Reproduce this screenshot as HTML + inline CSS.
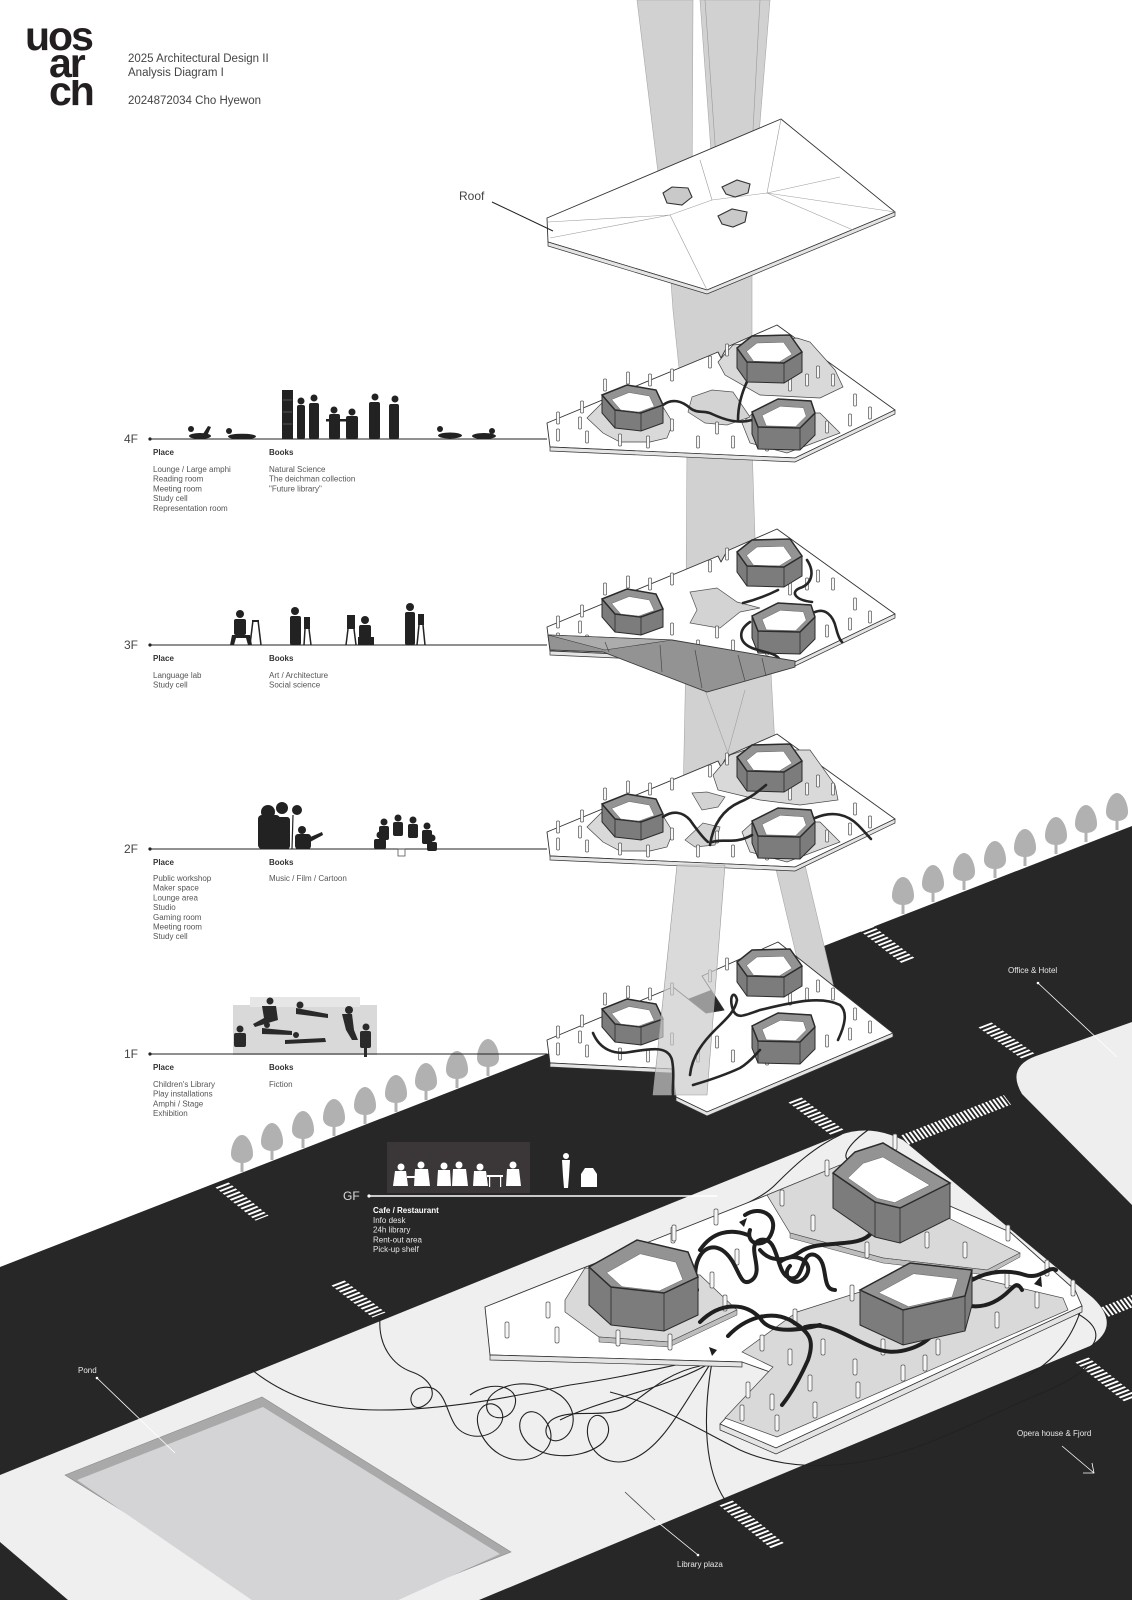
<!DOCTYPE html>
<html><head><meta charset="utf-8"><style>
html,body{margin:0;padding:0;background:#fff;}
svg{display:block;font-family:"Liberation Sans",Arial,sans-serif;}
.pl{fill:#fff;stroke:#333;stroke-width:.9;stroke-linejoin:round}
.pt{fill:#e4e4e4;stroke:#333;stroke-width:.7}
.sp{fill:#d9d9d9;stroke:#444;stroke-width:.7}
.ho{fill:#d3d3d3;stroke:#555;stroke-width:.7}
.hs{fill:#7c7c7c;stroke:#2b2b2b;stroke-width:1}
.hl{stroke:#2b2b2b;stroke-width:.8}
.hr{fill:#939393;stroke:#2b2b2b;stroke-width:1.5}
.hi{fill:#fff;stroke:#666;stroke-width:.5}
.c rect{fill:#f6f6f6;stroke:#555;stroke-width:.7}
.tp{fill:none;stroke:#262626;stroke-width:2.6;stroke-linecap:round}
.tg{fill:none;stroke:#1f1f1f;stroke-width:4;stroke-linecap:round}
.th{fill:none;stroke:#222;stroke-width:1.1}
.sh{fill:#d1d1d1;stroke:#a8a8a8;stroke-width:.6}
.fl{font-size:12px;fill:#444}
.hd{font-size:8px;font-weight:bold;fill:#333}
.it{font-size:8px;fill:#555}
.ll{stroke:#222;stroke-width:1}
.sil{fill:#222}
.wt{fill:#fff}
.cw{fill:none;stroke:#fff}
</style></head><body>
<svg width="1132" height="1600" viewBox="0 0 1132 1600" xmlns="http://www.w3.org/2000/svg">
<defs>
  <g id="tree">
    <rect x="-1.5" y="-10" width="3" height="10" fill="#b1b1b1"/>
    <path d="M0,-37 C6,-37 11,-27 11,-18 C11,-12 6,-9 0,-9 C-6,-9 -11,-12 -11,-18 C-11,-27 -6,-37 0,-37 Z" fill="#b1b1b1"/>
  </g>
  <g id="plate4">
    <polygon class="pl" points="547,423 718,352 721,358 727,347 777,325 895,410 795,458 550,447"/>
    <polygon class="pt" points="550,447 795,458 895,410 895,414 795,462 550,451"/>
  </g>
  <g id="cols4" class="c">
    <rect x="556.5" y="412" width="3" height="12" rx="1"/><rect x="580.5" y="401" width="3" height="12" rx="1"/>
    <rect x="648.5" y="374" width="3" height="12" rx="1"/><rect x="670.5" y="369" width="3" height="12" rx="1"/>
    <rect x="708.5" y="356" width="3" height="12" rx="1"/><rect x="725.5" y="344" width="3" height="12" rx="1"/>
    <rect x="755.5" y="351" width="3" height="12" rx="1"/><rect x="816.5" y="366" width="3" height="12" rx="1"/>
    <rect x="831.5" y="374" width="3" height="12" rx="1"/><rect x="853.5" y="394" width="3" height="12" rx="1"/>
    <rect x="868.5" y="407" width="3" height="12" rx="1"/><rect x="578.5" y="417" width="3" height="12" rx="1"/>
    <rect x="556.5" y="429" width="3" height="12" rx="1"/><rect x="585.5" y="431" width="3" height="12" rx="1"/>
    <rect x="618.5" y="434" width="3" height="12" rx="1"/><rect x="646.5" y="436" width="3" height="12" rx="1"/>
    <rect x="670.5" y="419" width="3" height="12" rx="1"/><rect x="696.5" y="436" width="3" height="12" rx="1"/>
    <rect x="715.5" y="422" width="3" height="12" rx="1"/><rect x="731.5" y="436" width="3" height="12" rx="1"/>
    <rect x="765.5" y="439" width="3" height="12" rx="1"/><rect x="788.5" y="379" width="3" height="12" rx="1"/>
    <rect x="805.5" y="374" width="3" height="12" rx="1"/><rect x="825.5" y="421" width="3" height="12" rx="1"/>
    <rect x="848.5" y="414" width="3" height="12" rx="1"/><rect x="603.5" y="379" width="3" height="12" rx="1"/>
    <rect x="626.5" y="372" width="3" height="12" rx="1"/>
  </g>
  <g id="hex4">
    <polygon class="hs" points="602,395 627,385 656,390 663,405 663,423 641,431 615,428 602,413"/>
    <line class="hl" x1="641" y1="413" x2="641" y2="431"/><line class="hl" x1="615" y1="410" x2="615" y2="428"/>
    <polygon class="hr" points="602,395 627,385 656,390 663,405 641,413 615,410"/>
    <polygon class="hi" points="611.6,399.5 629.1,392.5 649.4,396 654.3,406.5 638.9,412.1 620.7,410"/>

    <polygon class="hs" points="737,348 752,336 790,335 802,352 802,372 784,383 747,382 737,368"/>
    <line class="hl" x1="784" y1="363" x2="784" y2="383"/><line class="hl" x1="747" y1="362" x2="747" y2="382"/>
    <polygon class="hr" points="737,348 752,336 790,335 802,352 784,363 747,362"/>
    <polygon class="hi" points="746.5,351.4 757,343 783.6,342.3 792,354.2 779.4,361.9 753.5,361.2"/>

    <polygon class="hs" points="752,412 778,399 811,401 815,413 815,435 800,450 758,449 752,434"/>
    <line class="hl" x1="800" y1="428" x2="800" y2="450"/><line class="hl" x1="758" y1="427" x2="758" y2="449"/>
    <polygon class="hr" points="752,412 778,399 811,401 815,413 800,428 758,427"/>
    <polygon class="hi" points="762.1,415.4 780.3,406.3 803.4,407.7 806.2,416.1 795.7,426.6 766.3,425.9"/>
  </g>
</defs>

<!-- ROAD -->
<polygon points="0,1267 1132,826 1132,1600 0,1600" fill="#272727"/>
<!-- office block -->
<path d="M1132,1022 L1036,1056 Q1006,1067 1022,1094 L1132,1205 Z" fill="#eeeeee"/>
<!-- plaza -->
<path d="M0,1475 L840,1135 Q870,1124 903,1140 L1093,1298 Q1122,1326 1090,1346 L479,1600 L68,1600 L0,1542 Z" fill="#efefef"/>
<!-- pond -->
<polygon points="262,1397 511,1552 314,1630 65,1475" fill="#a9a9a9" stroke="#8a8a8a" stroke-width=".6"/>
<polygon points="263,1407 500,1554 310,1640 77,1480" fill="#d4d4d7"/>

<!-- crosswalks -->
<g class="cw" stroke-width="14" stroke-dasharray="2.2 2.4">
  <line transform="matrix(0.771,0.636,0.93,-0.36,222,1185)" x1="0" y1="0" x2="52" y2="0"/>
  <line transform="matrix(0.788,0.615,0.93,-0.36,338,1283)" x1="0" y1="0" x2="52" y2="0"/>
  <line transform="matrix(0.791,0.612,0.93,-0.36,866,928)" x1="0" y1="0" x2="55" y2="0"/>
  <line transform="matrix(0.793,0.609,0.93,-0.36,795,1100)" x1="0" y1="0" x2="54" y2="0"/>
  <line transform="matrix(0.811,0.585,0.93,-0.36,985,1025)" x1="0" y1="0" x2="53" y2="0"/>
  <line transform="matrix(0.781,0.625,0.93,-0.36,1082,1360)" x1="0" y1="0" x2="64" y2="0"/>
  <line transform="matrix(0.769,0.639,0.93,-0.36,726,1503)" x1="0" y1="0" x2="69" y2="0"/>
</g>
<g class="cw" stroke-width="12" stroke-dasharray="2 1.9">
  <line transform="matrix(0.931,-0.365,0.6,0.8,905,1140)" x1="0" y1="0" x2="110" y2="0"/>
  <line transform="matrix(0.928,-0.371,0.6,0.8,1105,1312)" x1="0" y1="0" x2="38" y2="0"/>
</g>

<!-- plaza thin paths -->
<g class="th">
  <path d="M380,1318 C378,1345 392,1365 412,1372 C430,1378 440,1395 425,1405 C410,1415 405,1392 420,1388 C445,1382 445,1410 455,1425 C465,1440 490,1440 500,1425 C510,1410 490,1395 480,1410 C470,1425 490,1460 520,1460 C545,1460 560,1440 545,1420 C530,1400 510,1420 525,1440 C540,1460 580,1460 600,1445 C620,1430 600,1405 590,1420 C580,1440 600,1470 630,1460 C660,1450 680,1410 700,1380 C705,1372 710,1365 712,1360"/>
  <path d="M252,1370 C290,1400 330,1410 380,1410 C450,1410 520,1395 570,1385 C620,1378 660,1368 700,1360"/>
  <path d="M712,1362 C702,1420 705,1470 725,1500"/>
  <path d="M560,1420 C600,1400 660,1390 705,1366"/>
  <path d="M470,1395 C490,1380 520,1385 515,1405 C510,1425 480,1420 488,1400 C495,1385 530,1375 560,1395 C580,1410 575,1435 560,1440 C545,1445 540,1425 555,1418 C575,1408 610,1420 630,1405 C650,1390 670,1372 700,1366"/>
  <path d="M610,1392 C660,1405 700,1430 740,1450 C780,1468 830,1470 880,1458 C930,1446 980,1420 1030,1398 C1060,1386 1080,1375 1088,1365"/>
  <path d="M842,1134 C812,1148 792,1168 775,1185 C760,1200 738,1205 728,1215"/>
  <path d="M868,1130 C840,1150 840,1165 860,1160"/>
  <path d="M1070,1310 C1092,1320 1102,1332 1092,1346"/>
  <path d="M1082,1306 C1075,1330 1060,1360 1020,1380"/>
</g>

<!-- trees -->
<g>
  <use href="#tree" x="242" y="1172"/><use href="#tree" x="272" y="1160"/><use href="#tree" x="303" y="1148"/>
  <use href="#tree" x="334" y="1136"/><use href="#tree" x="365" y="1124"/><use href="#tree" x="396" y="1112"/>
  <use href="#tree" x="426" y="1100"/><use href="#tree" x="457" y="1088"/><use href="#tree" x="488" y="1076"/>
  <use href="#tree" x="903" y="914"/><use href="#tree" x="933" y="902"/><use href="#tree" x="964" y="890"/>
  <use href="#tree" x="995" y="878"/><use href="#tree" x="1025" y="866"/><use href="#tree" x="1056" y="854"/>
  <use href="#tree" x="1086" y="842"/><use href="#tree" x="1117" y="830"/>
</g>

<!-- light shafts -->
<polygon class="sh" points="637,0 693,0 692,197 661,197"/>
<polygon class="sh" points="700,0 770,0 752,220 716,220"/>
<g stroke="#9a9a9a" stroke-width=".6">
  <line x1="705" y1="0" x2="720" y2="215"/><line x1="760" y1="0" x2="750" y2="186"/>
</g>
<polygon class="sh" points="668,240 752,240 752,445 687,445 673,310"/>
<polygon class="sh" points="687,445 752,445 757,600 686,600"/>
<polygon class="sh" points="686,655 770,655 778,800 683,800"/>
<g stroke="#a0a0a0" stroke-width=".6"><line x1="705" y1="690" x2="745" y2="800"/><line x1="745" y1="690" x2="715" y2="800"/></g>
<polygon class="sh" points="775,865 805,865 838,1005 808,1005"/>

<!-- ROOF -->
<polygon class="pl" points="547,218 781,119 895,212 707,290 548,242"/>
<polygon class="pt" points="548,242 707,290 895,212 895,216 707,294 548,246"/>
<g stroke="#9c9c9c" stroke-width=".6" fill="none">
  <polyline points="548,222 670,215 712,200 767,193 895,212"/>
  <line x1="550" y1="238" x2="670" y2="215"/>
  <line x1="670" y1="215" x2="707" y2="290"/>
  <line x1="767" y1="193" x2="781" y2="119"/>
  <line x1="767" y1="193" x2="840" y2="177"/>
  <line x1="767" y1="193" x2="853" y2="230"/>
  <line x1="712" y1="200" x2="700" y2="160"/>
</g>
<g fill="#c9c9c9" stroke="#333" stroke-width="1.1">
  <polygon points="663,193 672,187 688,188 692,197 682,205 667,203"/>
  <polygon points="722,187 737,180 750,184 748,193 735,197 726,194"/>
  <polygon points="718,216 732,209 747,212 745,222 733,227 722,224"/>
</g>

<!-- 4F -->
<use href="#plate4"/>
<polygon class="sp" points="587,418 603,402 663,407 673,423 667,438 650,442 620,442 603,433"/>
<polygon class="sp" points="718,362 733,345 797,338 810,342 835,370 843,387 820,398 760,395 725,375"/>
<polygon class="sp" points="742,423 753,413 820,413 840,433 787,453 750,443"/>
<polygon class="ho" points="692,397 712,390 733,392 750,417 727,425 705,423 688,412"/>
<use href="#cols4"/>
<g class="tp">
  <path d="M663,405 C672,398 682,401 690,408 C697,414 705,410 712,414 C725,420 738,424 752,420"/>
  <path d="M752,372 C744,386 738,402 738,420"/>
</g>
<use href="#hex4"/>

<!-- 3F -->
<use href="#plate4" y="204"/>
<polygon class="ho" points="690,592 717,588 737,602 760,608 740,612 720,628 713,627 690,623 697,610"/>
<use href="#cols4" y="204"/>
<use href="#hex4" y="204"/>
<g class="tp">
  <path d="M807,560 C815,572 812,584 800,588 C790,592 795,600 812,602"/>
  <path d="M815,612 C825,608 833,615 836,628 C838,636 840,640 842,642"/>
  <path d="M750,622 C738,630 738,642 752,648 C765,653 775,652 780,660"/>
  <path d="M778,590 C768,595 755,600 743,603"/>
</g>
<polygon points="548,635 672,640 795,661 795,667 707,692 603,652 550,650" fill="#939393" stroke="#3a3a3a" stroke-width=".9"/>
<polygon points="548,635 672,640 605,650" fill="#acacac" stroke="#3a3a3a" stroke-width=".6"/>
<g stroke="#4a4a4a" stroke-width=".7">
  <line x1="605" y1="642" x2="609" y2="652"/><line x1="660" y1="645" x2="662" y2="672"/>
  <line x1="695" y1="650" x2="702" y2="688"/><line x1="738" y1="655" x2="745" y2="681"/>
  <line x1="762" y1="658" x2="766" y2="676"/>
</g>

<!-- 2F -->
<use href="#plate4" y="409"/>
<polygon class="sp" points="587,827 603,811 663,816 673,832 667,847 650,851 620,851 603,842"/>
<polygon class="sp" points="713,775 730,755 745,750 810,750 835,785 838,800 800,805 760,800 718,790"/>
<polygon class="sp" points="742,832 753,822 820,822 840,842 787,862 750,852"/>
<polygon class="ho" points="692,793 707,792 725,797 718,807 702,810"/>
<polygon class="ho" points="685,840 703,823 720,827 715,845 695,847"/>
<use href="#cols4" y="409"/>
<use href="#hex4" y="409"/>
<g class="tp">
  <path d="M663,817 C673,810 683,812 690,820 C697,830 703,838 708,842"/>
  <path d="M710,845 C713,825 722,810 740,802 C752,797 760,790 766,785"/>
  <path d="M712,842 C722,838 735,845 752,835"/>
  <path d="M815,818 C833,810 848,815 858,825 C864,831 868,836 871,839"/>
</g>

<!-- 1F -->
<polygon class="pl" points="547,1040 673,987 706,1013 724,1010 702,976 778,942 893,1033 707,1112 676,1097 672,1069 550,1063"/>
<polygon class="pt" points="676,1097 707,1112 893,1033 893,1037 707,1116 676,1101"/>
<polygon class="pt" points="550,1063 672,1069 672,1073 550,1067"/>
<use href="#cols4" y="614"/>
<use href="#hex4" y="614"/>
<polygon points="677,865 725,865 707,1095 653,1095" fill="#cacaca" fill-opacity=".7" stroke="#9a9a9a" stroke-width=".6"/>
<g class="tp">
  <path d="M593,1033 C600,1050 615,1055 630,1052 C650,1049 668,1045 672,1060 C675,1075 672,1085 673,1095"/>
  <path d="M690,1075 C692,1055 705,1040 715,1030 C725,1020 735,1012 737,1000 C735,990 728,995 733,1010 C737,1020 745,1015 760,1010 C790,1003 820,995 840,1005 C848,1012 845,1025 838,1040"/>
  <path d="M693,1085 C710,1080 725,1075 740,1068 C750,1062 755,1055 760,1050"/>
</g>

<!-- GF building -->
<polygon class="pl" points="485,1307 767,1195 848,1162 1010,1232 1075,1290 1082,1306 776,1448 720,1424 770,1372 742,1362 490,1355"/>
<polygon class="pt" points="490,1355 742,1362 742,1367 490,1360"/>
<polygon class="pt" points="720,1424 776,1448 1082,1306 1082,1312 776,1454 720,1430"/>
<polygon class="sp" points="565,1300 585,1268 700,1275 737,1310 669,1342 599,1337 565,1312"/>
<polygon points="599,1337 669,1342 737,1310 737,1315 669,1347 599,1342" fill="#bdbdbd" stroke="#444" stroke-width=".5"/>
<polygon class="sp" points="767,1195 840,1165 1020,1253 987,1270 883,1258 790,1233"/>
<polygon points="790,1233 883,1258 987,1270 1020,1253 1020,1257 987,1275 883,1263 790,1238" fill="#bdbdbd" stroke="#444" stroke-width=".5"/>
<polygon class="sp" points="742,1352 797,1312 860,1292 973,1277 1063,1298 1068,1310 777,1437 725,1418 773,1367"/>
<g class="c">
  <rect x="714" y="1209" width="4" height="16" rx="1.5"/><rect x="671" y="1227" width="4" height="16" rx="1.5"/>
  <rect x="735" y="1249" width="4" height="16" rx="1.5"/><rect x="710" y="1272" width="4" height="16" rx="1.5"/>
  <rect x="723" y="1295" width="4" height="16" rx="1.5"/><rect x="668" y="1334" width="4" height="16" rx="1.5"/>
  <rect x="616" y="1330" width="4" height="16" rx="1.5"/><rect x="780" y="1190" width="4" height="16" rx="1.5"/>
  <rect x="825" y="1160" width="4" height="16" rx="1.5"/><rect x="811" y="1215" width="4" height="16" rx="1.5"/>
  <rect x="865" y="1242" width="4" height="16" rx="1.5"/><rect x="925" y="1232" width="4" height="16" rx="1.5"/>
  <rect x="963" y="1242" width="4" height="16" rx="1.5"/><rect x="1006" y="1225" width="4" height="16" rx="1.5"/>
  <rect x="1045" y="1260" width="4" height="16" rx="1.5"/><rect x="1071" y="1280" width="4" height="16" rx="1.5"/>
  <rect x="1005" y="1272" width="4" height="16" rx="1.5"/><rect x="1035" y="1292" width="4" height="16" rx="1.5"/>
  <rect x="995" y="1312" width="4" height="16" rx="1.5"/><rect x="936" y="1339" width="4" height="16" rx="1.5"/>
  <rect x="923" y="1355" width="4" height="16" rx="1.5"/><rect x="901" y="1365" width="4" height="16" rx="1.5"/>
  <rect x="881" y="1339" width="4" height="16" rx="1.5"/><rect x="853" y="1359" width="4" height="16" rx="1.5"/>
  <rect x="856" y="1382" width="4" height="16" rx="1.5"/><rect x="821" y="1339" width="4" height="16" rx="1.5"/>
  <rect x="808" y="1375" width="4" height="16" rx="1.5"/><rect x="813" y="1402" width="4" height="16" rx="1.5"/>
  <rect x="788" y="1349" width="4" height="16" rx="1.5"/><rect x="770" y="1394" width="4" height="16" rx="1.5"/>
  <rect x="775" y="1415" width="4" height="16" rx="1.5"/><rect x="746" y="1382" width="4" height="16" rx="1.5"/>
  <rect x="740" y="1405" width="4" height="16" rx="1.5"/><rect x="760" y="1335" width="4" height="16" rx="1.5"/>
  <rect x="793" y="1309" width="4" height="16" rx="1.5"/><rect x="850" y="1285" width="4" height="16" rx="1.5"/>
  <rect x="893" y="1134" width="4" height="16" rx="1.5"/><rect x="505" y="1322" width="4" height="16" rx="1.5"/>
  <rect x="546" y="1302" width="4" height="16" rx="1.5"/><rect x="555" y="1327" width="4" height="16" rx="1.5"/>
  <rect x="672" y="1225" width="4" height="16" rx="1.5"/>
</g>
<g class="tg">
  <path d="M697,1290 C690,1260 705,1240 722,1250 C740,1262 738,1290 752,1280 C765,1270 745,1245 760,1240 C780,1235 775,1275 790,1278 C805,1282 800,1250 815,1255 C830,1262 820,1290 835,1290"/>
  <path d="M872,1232 C860,1250 820,1238 800,1252 C785,1262 770,1262 760,1250"/>
  <path d="M745,1215 C760,1205 778,1215 772,1232 C766,1250 745,1245 750,1230"/>
  <path d="M780,1262 C795,1250 815,1262 806,1276 C796,1290 780,1276 790,1266"/>
  <path d="M700,1322 C720,1302 745,1302 760,1318 C770,1335 800,1330 820,1325"/>
  <path d="M728,1336 C745,1318 770,1310 790,1320 C810,1332 815,1340 808,1360 C800,1378 790,1395 782,1405"/>
  <path d="M805,1327 C830,1320 850,1340 880,1350 C900,1356 925,1345 932,1335"/>
  <path d="M972,1280 C990,1270 1010,1270 1025,1275 C1040,1280 1050,1265 1056,1270"/>
  <path d="M965,1305 C985,1310 1000,1300 1010,1290 C1015,1285 1018,1282 1022,1290"/>
  <path d="M700,1250 C712,1232 730,1228 748,1235"/>
</g>
<!-- GF hexes -->
<polygon class="hs" points="589,1267 637,1240 688,1252 698,1277 698,1315 664,1331 611,1325 589,1305"/>
<line class="hl" x1="664" y1="1293" x2="664" y2="1331"/><line class="hl" x1="611" y1="1287" x2="611" y2="1325"/>
<polygon class="hr" points="589,1267 637,1240 688,1252 698,1277 664,1293 611,1287"/>
<polygon class="hi" points="606.6,1272.7 640.2,1253.8 675.9,1262.2 682.9,1279.7 659.1,1291 622,1286.7"/>

<polygon class="hs" points="833,1173 855,1152 883,1143 950,1183 950,1218 900,1243 875,1237 833,1208"/>
<line class="hl" x1="900" y1="1208" x2="900" y2="1243"/><line class="hl" x1="875" y1="1202" x2="875" y2="1237"/>
<polygon class="hr" points="833,1173 855,1152 883,1143 950,1183 900,1208 875,1202"/>
<polygon class="hi" points="847.9,1178.1 863.2,1163.3 882.9,1157 929.8,1185.1 894.8,1202.6 877.3,1198.4"/>

<polygon class="hs" points="860,1290 910,1263 972,1270 972,1305 965,1331 903,1345 860,1325"/>
<line class="hl" x1="965" y1="1296" x2="965" y2="1331"/><line class="hl" x1="903" y1="1310" x2="903" y2="1345"/>
<polygon class="hr" points="860,1290 910,1263 972,1270 965,1296 903,1310"/>
<polygon class="hi" points="878.6,1292.7 913.6,1273.7 957.8,1278.7 952.1,1296.9 908.7,1306.7"/>
<g fill="#1f1f1f">
  <polygon points="739,1222 747,1218 744,1227"/>
  <polygon points="709,1347 717,1350 712,1356"/>
  <polygon points="1034,1284 1041,1276 1042,1287"/>
</g>

<!-- ROOF label -->
<text x="459" y="200" class="fl" font-size="11.5">Roof</text>
<line x1="492" y1="202" x2="553" y2="231" class="ll"/>

<!-- LOGO -->
<g fill="#231f20" font-weight="bold" font-size="41">
  <text x="25" y="50" letter-spacing="-2">uos</text>
  <text x="49" y="77" letter-spacing="-2">ar</text>
  <clipPath id="lc"><rect x="40" y="80" width="80" height="30"/></clipPath>
  <text x="49" y="105" letter-spacing="-2" clip-path="url(#lc)">ch</text>
</g>
<g font-size="11.5" fill="#444">
  <text x="128" y="62">2025 Architectural Design II</text>
  <text x="128" y="76">Analysis Diagram I</text>
  <text x="128" y="104">2024872034 Cho Hyewon</text>
</g>

<!-- 4F labels -->
<text x="124" y="443" class="fl">4F</text>
<line x1="150" y1="439" x2="547" y2="439" class="ll"/><circle cx="150" cy="439" r="1.6" fill="#222"/>
<text x="153" y="455" class="hd">Place</text><text x="269" y="455" class="hd">Books</text>
<text class="it"><tspan x="153" y="472">Lounge / Large amphi</tspan><tspan x="153" y="481.7">Reading room</tspan><tspan x="153" y="491.4">Meeting room</tspan><tspan x="153" y="501.1">Study cell</tspan><tspan x="153" y="510.8">Representation room</tspan></text>
<text class="it"><tspan x="269" y="472">Natural Science</tspan><tspan x="269" y="481.7">The deichman collection</tspan><tspan x="269" y="491.4">"Future library"</tspan></text>
<g class="sil">
  <circle cx="191" cy="429" r="3"/><ellipse cx="200" cy="436" rx="11" ry="3"/><path d="M203,434 L208,426 L211,427 L207,436 Z"/>
  <circle cx="229" cy="431" r="3"/><ellipse cx="242" cy="436.5" rx="14" ry="2.8"/>
  <rect x="282" y="390" width="11" height="49"/>
  <circle cx="301" cy="401" r="3.5"/><rect x="297" y="405" width="8" height="34" rx="2"/>
  <circle cx="314" cy="398" r="3.5"/><rect x="309" y="403" width="10" height="36" rx="2"/>
  <rect x="326" y="419" width="22" height="2.5"/>
  <circle cx="334" cy="410" r="3.5"/><rect x="329" y="414" width="11" height="25" rx="2"/>
  <circle cx="352" cy="412" r="3.5"/><rect x="346" y="416" width="12" height="23" rx="2"/>
  <circle cx="375" cy="397" r="3.5"/><rect x="369" y="402" width="11" height="37" rx="2"/>
  <circle cx="395" cy="399" r="3.5"/><rect x="389" y="404" width="10" height="35" rx="2"/>
  <circle cx="440" cy="429" r="3"/><ellipse cx="450" cy="435.5" rx="12" ry="3"/>
  <circle cx="492" cy="431" r="3"/><ellipse cx="484" cy="436" rx="12" ry="3"/>
</g>
<g stroke="#777" stroke-width=".6"><line x1="283" y1="400" x2="292" y2="400"/><line x1="283" y1="412" x2="292" y2="412"/><line x1="283" y1="424" x2="292" y2="424"/></g>

<!-- 3F labels -->
<text x="124" y="649" class="fl">3F</text>
<line x1="150" y1="645" x2="547" y2="645" class="ll"/><circle cx="150" cy="645" r="1.6" fill="#222"/>
<text x="153" y="661" class="hd">Place</text><text x="269" y="661" class="hd">Books</text>
<text class="it"><tspan x="153" y="678">Language lab</tspan><tspan x="153" y="687.7">Study cell</tspan></text>
<text class="it"><tspan x="269" y="678">Art / Architecture</tspan><tspan x="269" y="687.7">Social science</tspan></text>
<g class="sil">
  <circle cx="240" cy="614" r="4"/><rect x="234" y="619" width="12" height="16" rx="2"/><path d="M232,635 L250,635 L252,645 L248,645 L246,638 L236,638 L234,645 L230,645 Z"/>
  <rect x="252" y="620" width="7" height="2"/><line x1="253" y1="620" x2="250" y2="645" stroke="#222" stroke-width="1.5"/><line x1="258" y1="620" x2="261" y2="645" stroke="#222" stroke-width="1.5"/>
  <circle cx="295" cy="611" r="4"/><rect x="290" y="616" width="11" height="29" rx="2"/>
  <rect x="304" y="617" width="6" height="12"/><line x1="305" y1="629" x2="304" y2="645" stroke="#222" stroke-width="1.5"/><line x1="309" y1="629" x2="311" y2="645" stroke="#222" stroke-width="1.5"/>
  <rect x="347" y="615" width="8" height="14"/><line x1="348" y1="629" x2="346" y2="645" stroke="#222" stroke-width="1.5"/><line x1="354" y1="629" x2="356" y2="645" stroke="#222" stroke-width="1.5"/>
  <circle cx="365" cy="620" r="4"/><rect x="359" y="625" width="12" height="13" rx="2"/><rect x="358" y="637" width="16" height="8"/>
  <circle cx="410" cy="607" r="4"/><rect x="405" y="612" width="10" height="33" rx="2"/>
  <rect x="418" y="614" width="6" height="11"/><line x1="419" y1="625" x2="417" y2="645" stroke="#222" stroke-width="1.5"/><line x1="423" y1="625" x2="425" y2="645" stroke="#222" stroke-width="1.5"/>
</g>

<!-- 2F labels -->
<text x="124" y="853" class="fl">2F</text>
<line x1="150" y1="849" x2="547" y2="849" class="ll"/><circle cx="150" cy="849" r="1.6" fill="#222"/>
<text x="153" y="865" class="hd">Place</text><text x="269" y="865" class="hd">Books</text>
<text class="it"><tspan x="153" y="881">Public workshop</tspan><tspan x="153" y="890.7">Maker space</tspan><tspan x="153" y="900.4">Lounge area</tspan><tspan x="153" y="910.1">Studio</tspan><tspan x="153" y="919.8">Gaming room</tspan><tspan x="153" y="929.5">Meeting room</tspan><tspan x="153" y="939.2">Study cell</tspan></text>
<text class="it"><tspan x="269" y="881">Music / Film / Cartoon</tspan></text>
<g class="sil">
  <circle cx="268" cy="812" r="7"/><circle cx="282" cy="808" r="6"/><circle cx="297" cy="810" r="5"/>
  <rect x="258" y="815" width="22" height="34" rx="4"/><rect x="276" y="817" width="14" height="32" rx="3"/>
  <circle cx="302" cy="830" r="4"/><rect x="295" y="834" width="16" height="15" rx="3"/><path d="M308,838 L322,832 L323,835 L310,842 Z"/>
  <line x1="293" y1="815" x2="292" y2="849" stroke="#222" stroke-width="1.2"/>
  <circle cx="384" cy="822" r="3.5"/><circle cx="398" cy="818" r="3.5"/><circle cx="413" cy="820" r="3.5"/><circle cx="427" cy="826" r="3.5"/>
  <circle cx="380" cy="835" r="3.5"/><circle cx="432" cy="838" r="3.5"/>
  <rect x="379" y="826" width="10" height="14" rx="2"/><rect x="393" y="822" width="10" height="14" rx="2"/><rect x="408" y="824" width="10" height="14" rx="2"/><rect x="422" y="830" width="10" height="14" rx="2"/>
  <rect x="374" y="839" width="12" height="10" rx="2"/><rect x="427" y="842" width="10" height="9" rx="2"/>
</g>
<rect x="398" y="849" width="7" height="7" fill="none" stroke="#555" stroke-width=".8"/>

<!-- 1F labels -->
<rect x="233" y="1005" width="144" height="50" fill="#d9d9d9"/>
<rect x="250" y="997" width="110" height="10" fill="#e6e6e6"/>
<text x="124" y="1058" class="fl">1F</text>
<line x1="150" y1="1054" x2="547" y2="1054" class="ll"/><circle cx="150" cy="1054" r="1.6" fill="#222"/>
<text x="153" y="1070" class="hd">Place</text><text x="269" y="1070" class="hd">Books</text>
<text class="it"><tspan x="153" y="1087">Children's Library</tspan><tspan x="153" y="1096.7">Play installations</tspan><tspan x="153" y="1106.4">Amphi / Stage</tspan><tspan x="153" y="1116.1">Exhibition</tspan></text>
<text class="it"><tspan x="269" y="1087">Fiction</tspan></text>
<g fill="#2a2a2a">
  <circle cx="240" cy="1029" r="3.5"/><rect x="234" y="1033" width="12" height="14" rx="2"/>
  <circle cx="270" cy="1001" r="3.5"/><path d="M262,1006 L276,1006 L278,1020 L255,1027 L253,1024 L264,1018 Z"/>
  <circle cx="267" cy="1025" r="3"/><path d="M262,1028 L292,1031 L292,1035 L262,1034 Z"/>
  <circle cx="300" cy="1005" r="3.5"/><path d="M296,1008 L328,1014 L328,1018 L296,1014 Z"/>
  <circle cx="296" cy="1035" r="3"/><path d="M285,1040 L325,1038 L326,1042 L285,1044 Z"/>
  <circle cx="349" cy="1010" r="4"/><path d="M342,1014 L352,1014 L354,1030 L358,1040 L352,1040 L346,1030 Z"/>
  <circle cx="366" cy="1027" r="3.5"/><rect x="360" y="1031" width="11" height="17" rx="2"/><rect x="364" y="1048" width="3" height="9"/>
</g>

<!-- GF labels -->
<rect x="387" y="1142" width="143" height="51" fill="#3b3738"/>
<g class="wt">
  <circle cx="401" cy="1167" r="3.5"/><path d="M395,1171 L406,1171 L408,1186 L393,1186 Z"/>
  <circle cx="421" cy="1165" r="3.5"/><path d="M415,1169 L428,1169 L430,1186 L414,1186 Z"/>
  <rect x="407" y="1176" width="9" height="2"/>
  <circle cx="444" cy="1166" r="3.5"/><path d="M438,1170 L450,1170 L451,1186 L437,1186 Z"/>
  <circle cx="459" cy="1165" r="3.5"/><path d="M453,1169 L466,1169 L468,1186 L452,1186 Z"/>
  <circle cx="480" cy="1167" r="3.5"/><path d="M474,1171 L486,1171 L488,1186 L473,1186 Z"/>
  <rect x="487" y="1175" width="16" height="2"/><rect x="489" y="1177" width="1.2" height="10"/><rect x="500" y="1177" width="1.2" height="10"/>
  <circle cx="513" cy="1165" r="3.5"/><path d="M507,1169 L519,1169 L521,1186 L506,1186 Z"/>
  <circle cx="566" cy="1156" r="3"/><path d="M562,1160 L570,1160 L569,1176 L568,1188 L564,1188 L563,1176 Z"/>
  <path d="M581,1174 L585,1168 L593,1168 L597,1174 L597,1187 L581,1187 Z"/>
</g>
<text x="343" y="1200" font-size="12" fill="#ddd">GF</text>
<line x1="369" y1="1196" x2="717" y2="1196" stroke="#fff" stroke-width="1.4"/><circle cx="369" cy="1196" r="1.6" fill="#fff"/>
<text x="373" y="1213" class="hd" style="fill:#fff">Cafe / Restaurant</text>
<text font-size="8" fill="#e6e6e6"><tspan x="373" y="1223">Info desk</tspan><tspan x="373" y="1232.7">24h library</tspan><tspan x="373" y="1242.4">Rent-out area</tspan><tspan x="373" y="1252.1">Pick-up shelf</tspan></text>

<!-- site labels -->
<g font-size="8" fill="#e8e8e8">
  <text x="1008" y="973">Office &amp; Hotel</text>
  <text x="1017" y="1436">Opera house &amp; Fjord</text>
  <text x="677" y="1567">Library plaza</text>
  <text x="78" y="1373">Pond</text>
</g>
<g stroke="#fff" stroke-width=".8" fill="none">
  <line x1="1038" y1="983" x2="1117" y2="1057"/>
  <line x1="1062" y1="1446" x2="1094" y2="1473"/><polyline points="1083,1473 1094,1473 1092,1463"/>
  <line x1="655" y1="1520" x2="698" y2="1555"/>
  <line x1="97" y1="1378" x2="175" y2="1453"/>
</g>
<line x1="625" y1="1492" x2="655" y2="1520" stroke="#444" stroke-width=".8"/>
<circle cx="1038" cy="983" r="1.3" fill="#fff"/><circle cx="698" cy="1555" r="1.3" fill="#fff"/><circle cx="97" cy="1378" r="1.3" fill="#fff"/>
</svg>
</body></html>
